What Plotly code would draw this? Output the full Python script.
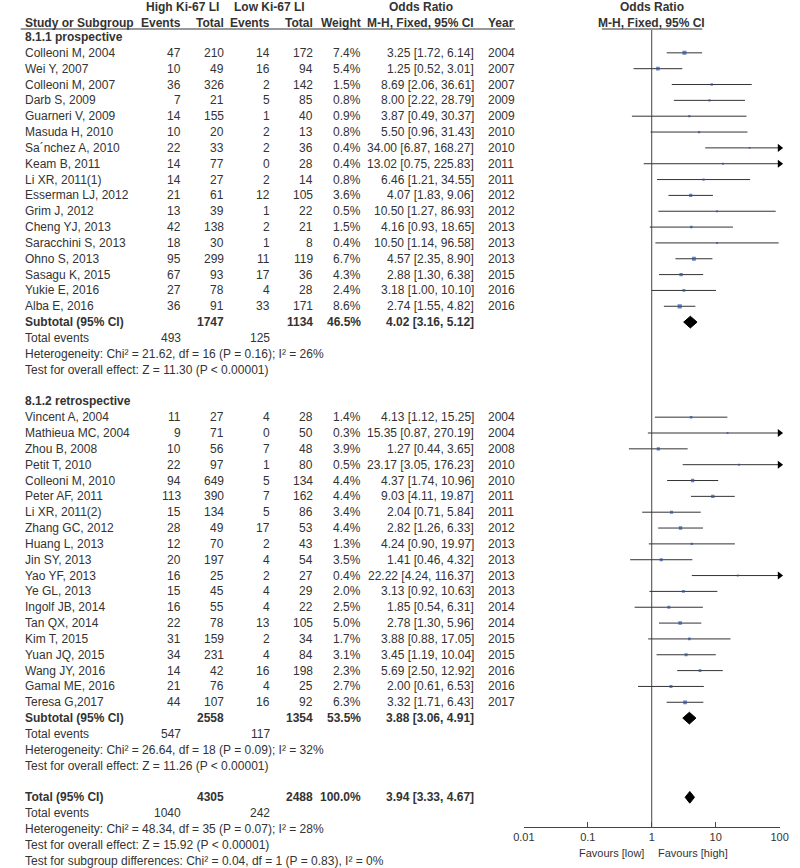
import plotly.graph_objects as go

# ---------------- data ----------------
prosp_names = ["Colleoni M, 2004", "Wei Y, 2007", "Colleoni M, 2007", "Darb S, 2009", "Guarneri V, 2009",
               "Masuda H, 2010", "Sa´nchez A, 2010", "Keam B, 2011", "Li XR, 2011(1)", "Esserman LJ, 2012",
               "Grim J, 2012", "Cheng YJ, 2013", "Saracchini S, 2013", "Ohno S, 2013", "Sasagu K, 2015",
               "Yukie E, 2016", "Alba E, 2016"]
prosp_ev_high = [47, 10, 36, 7, 14, 10, 22, 14, 14, 21, 13, 42, 18, 95, 67, 27, 36]
prosp_tot_high = [210, 49, 326, 21, 155, 20, 33, 77, 27, 61, 39, 138, 30, 299, 93, 78, 91]
prosp_ev_low = [14, 16, 2, 5, 1, 2, 2, 0, 2, 12, 1, 2, 1, 11, 17, 4, 33]
prosp_tot_low = [172, 94, 142, 85, 40, 13, 36, 28, 14, 105, 22, 21, 8, 119, 36, 28, 171]
prosp_weight = [7.4, 5.4, 1.5, 0.8, 0.9, 0.8, 0.4, 0.4, 0.8, 3.6, 0.5, 1.5, 0.4, 6.7, 4.3, 2.4, 8.6]
prosp_or = [3.25, 1.25, 8.69, 8.00, 3.87, 5.50, 34.00, 13.02, 6.46, 4.07, 10.50, 4.16, 10.50, 4.57, 2.88, 3.18, 2.74]
prosp_lo = [1.72, 0.52, 2.06, 2.22, 0.49, 0.96, 6.87, 0.75, 1.21, 1.83, 1.27, 0.93, 1.14, 2.35, 1.30, 1.00, 1.55]
prosp_hi = [6.14, 3.01, 36.61, 28.79, 30.37, 31.43, 168.27, 225.83, 34.55, 9.06, 86.93, 18.65, 96.58, 8.90, 6.38, 10.10, 4.82]
prosp_year = [2004, 2007, 2007, 2009, 2009, 2010, 2010, 2011, 2011, 2012, 2012, 2013, 2013, 2013, 2015, 2016, 2016]
prosp_sub = dict(tot_high=1747, tot_low=1134, weight="46.5%", est=4.02, lo=3.16, hi=5.12,
                 ev_high=493, ev_low=125,
                 het="Heterogeneity: Chi² = 21.62, df = 16 (P = 0.16); I² = 26%",
                 test="Test for overall effect: Z = 11.30 (P < 0.00001)")

retro_names = ["Vincent A, 2004", "Mathieua MC, 2004", "Zhou B, 2008", "Petit T, 2010", "Colleoni M, 2010",
               "Peter AF, 2011", "Li XR, 2011(2)", "Zhang GC, 2012", "Huang L, 2013", "Jin SY, 2013",
               "Yao YF, 2013", "Ye GL, 2013", "Ingolf JB, 2014", "Tan QX, 2014", "Kim T, 2015",
               "Yuan JQ, 2015", "Wang JY, 2016", "Gamal ME, 2016", "Teresa G,2017"]
retro_ev_high = [11, 9, 10, 22, 94, 113, 15, 28, 12, 20, 16, 15, 16, 22, 31, 34, 14, 21, 44]
retro_tot_high = [27, 71, 56, 97, 649, 390, 134, 49, 70, 197, 25, 45, 55, 78, 159, 231, 42, 76, 107]
retro_ev_low = [4, 0, 7, 1, 5, 7, 5, 17, 2, 4, 2, 4, 4, 13, 2, 4, 16, 4, 16]
retro_tot_low = [28, 50, 48, 80, 134, 162, 86, 53, 43, 54, 27, 29, 22, 105, 34, 84, 198, 25, 92]
retro_weight = [1.4, 0.3, 3.9, 0.5, 4.4, 4.4, 3.4, 4.4, 1.3, 3.5, 0.4, 2.0, 2.5, 5.0, 1.7, 3.1, 2.3, 2.7, 6.3]
retro_or = [4.13, 15.35, 1.27, 23.17, 4.37, 9.03, 2.04, 2.82, 4.24, 1.41, 22.22, 3.13, 1.85, 2.78, 3.88, 3.45, 5.69, 2.00, 3.32]
retro_lo = [1.12, 0.87, 0.44, 3.05, 1.74, 4.11, 0.71, 1.26, 0.90, 0.46, 4.24, 0.92, 0.54, 1.30, 0.88, 1.19, 2.50, 0.61, 1.71]
retro_hi = [15.25, 270.19, 3.65, 176.23, 10.96, 19.87, 5.84, 6.33, 19.97, 4.32, 116.37, 10.63, 6.31, 5.96, 17.05, 10.04, 12.92, 6.53, 6.43]
retro_year = [2004, 2004, 2008, 2010, 2010, 2011, 2011, 2012, 2013, 2013, 2013, 2013, 2014, 2014, 2015, 2015, 2016, 2016, 2017]
retro_sub = dict(tot_high=2558, tot_low=1354, weight="53.5%", est=3.88, lo=3.06, hi=4.91,
                 ev_high=547, ev_low=117,
                 het="Heterogeneity: Chi² = 26.64, df = 18 (P = 0.09); I² = 32%",
                 test="Test for overall effect: Z = 11.26 (P < 0.00001)")

overall = dict(tot_high=4305, tot_low=2488, weight="100.0%", est=3.94, lo=3.33, hi=4.67,
               ev_high=1040, ev_low=242,
               het="Heterogeneity: Chi² = 48.34, df = 35 (P = 0.07); I² = 28%",
               test="Test for overall effect: Z = 15.92 (P < 0.00001)",
               subgroup="Test for subgroup differences: Chi² = 0.04, df = 1 (P = 0.83), I² = 0%")

axis_ticks = [0.01, 0.1, 1, 10, 100]
axis_ticktext = ["0.01", "0.1", "1", "10", "100"]

# ---------------- layout constants ----------------
W, H = 800, 868
TOP_PX, ROW_PX = 37.0, 15.84


def r(px):
    return (px - TOP_PX) / ROW_PX


FONT = "Liberation Sans, Arial, sans-serif"
TXT = "#333333"
FS = 12
NAME_X, EV1_X, TOT1_X, EV2_X, TOT2_X, WT_X, OR_X, YEAR_X = 12, 176, 221, 268, 312, 361, 477, 487
AX_L, AX_R, AX_Y = 526, 788.3, 826.7
CI_COL = "#333333"
SQ_COL = "#2c4fa6"
XMAX = 100

fig = go.Figure()


def txt(text, px, row, anchor="right", bold=False, size=FS):
    if bold:
        text = "<b>" + text + "</b>"
    fig.add_annotation(x=px / W, xref="paper", y=row, yref="y", text=text, showarrow=False,
                       xanchor=anchor, yanchor="middle", font=dict(family=FONT, size=size, color=TXT))


# headers
h1, h2 = r(7.3), r(22.7)
txt("High Ki-67 LI", 176, h1, "center", True)
txt("Low Ki-67 LI", 265, h1, "center", True)
txt("Odds Ratio", 420, h1, "center", True)
txt("Odds Ratio", 657, h1, "center", True)
txt("Study or Subgroup", NAME_X, h2, "left", True)
txt("Events", EV1_X, h2, "right", True)
txt("Total", TOT1_X, h2, "right", True)
txt("Events", EV2_X, h2, "right", True)
txt("Total", TOT2_X, h2, "right", True)
txt("Weight", WT_X, h2, "right", True)
txt("M-H, Fixed, 95% CI", OR_X, h2, "right", True)
txt("Year", YEAR_X, h2, "left", True)
txt("M-H, Fixed, 95% CI", 657, h2, "center", True)
for x0, x1 in [(10, 517), (606, 709)]:
    fig.add_shape(type="line", xref="paper", yref="y", x0=x0 / W, x1=x1 / W, y0=r(29), y1=r(29),
                  line=dict(color=TXT, width=1))

ci_x, ci_y, sq_x, sq_y, sq_s, ar_x, ar_y = [], [], [], [], [], [], []


def study_block(start_row, title, names, e1, n1, e2, n2, wt, orv, lo, hi, yr, sub):
    txt(title, NAME_X, start_row, "left", True)
    for k in range(len(names)):
        row = start_row + 1 + k
        txt(names[k], NAME_X, row, "left")
        txt(str(e1[k]), EV1_X, row)
        txt(str(n1[k]), TOT1_X, row)
        txt(str(e2[k]), EV2_X, row)
        txt(str(n2[k]), TOT2_X, row)
        txt(f"{wt[k]:.1f}%", WT_X, row)
        txt(f"{orv[k]:.2f} [{lo[k]:.2f}, {hi[k]:.2f}]", OR_X, row)
        txt(str(yr[k]), YEAR_X, row, "left")
        ci_x.extend([lo[k], min(hi[k], XMAX), None])
        ci_y.extend([row, row, None])
        sq_x.append(orv[k]); sq_y.append(row); sq_s.append(1.3 + 1.0 * wt[k] ** 0.5)
        if hi[k] > XMAX:
            ar_x.append(XMAX); ar_y.append(row)
    srow = start_row + 1 + len(names)
    summary_rows(srow, "Subtotal (95% CI)", sub)
    return srow


def summary_rows(srow, label, s):
    txt(label, NAME_X, srow, "left", True)
    txt(str(s["tot_high"]), TOT1_X, srow, bold=True)
    txt(str(s["tot_low"]), TOT2_X, srow, bold=True)
    txt(s["weight"], WT_X, srow, bold=True)
    txt(f"{s['est']:.2f} [{s['lo']:.2f}, {s['hi']:.2f}]", OR_X, srow, bold=True)
    txt("Total events", NAME_X, srow + 1, "left")
    txt(str(s["ev_high"]), EV1_X, srow + 1)
    txt(str(s["ev_low"]), EV2_X, srow + 1)
    txt(s["het"], NAME_X, srow + 2, "left")
    txt(s["test"], NAME_X, srow + 3, "left")
    hh = 0.37
    fig.add_trace(go.Scatter(x=[s["lo"], s["est"], s["hi"], s["est"], s["lo"]],
                             y=[srow, srow - hh, srow, srow + hh, srow],
                             mode="lines", fill="toself", fillcolor="black",
                             line=dict(color="black", width=1), hoverinfo="skip"))


s1 = study_block(0, "8.1.1 prospective", prosp_names, prosp_ev_high, prosp_tot_high, prosp_ev_low,
                 prosp_tot_low, prosp_weight, prosp_or, prosp_lo, prosp_hi, prosp_year, prosp_sub)
s2 = study_block(s1 + 5, "8.1.2 retrospective", retro_names, retro_ev_high, retro_tot_high, retro_ev_low,
                 retro_tot_low, retro_weight, retro_or, retro_lo, retro_hi, retro_year, retro_sub)
trow = s2 + 5
summary_rows(trow, "Total (95% CI)", overall)
txt(overall["subgroup"], NAME_X, trow + 4, "left")

# no-effect line
fig.add_trace(go.Scatter(x=[1, 1], y=[r(30), r(AX_Y)], mode="lines",
                         line=dict(color="#444444", width=1), hoverinfo="skip"))
# CIs
fig.add_trace(go.Scatter(x=ci_x, y=ci_y, mode="lines", line=dict(color=CI_COL, width=1),
                         hoverinfo="skip"))
fig.add_trace(go.Scatter(x=sq_x, y=sq_y, mode="markers",
                         marker=dict(symbol="square", size=sq_s, color=SQ_COL, line=dict(width=0))))
fig.add_trace(go.Scatter(x=ar_x, y=ar_y, mode="markers", cliponaxis=False,
                         marker=dict(symbol="triangle-right", size=7, color="black")))

txt("Favours [low]", 651, r(852.7), "right", size=11)
txt("Favours [high]", 662, r(852.7), "left", size=11)

fig.update_layout(
    width=W, height=H, margin=dict(l=0, r=0, t=0, b=0),
    paper_bgcolor="white", plot_bgcolor="white", showlegend=False,
    xaxis=dict(type="log", range=[-2, 2], domain=[AX_L / W, AX_R / W], anchor="free",
               position=1 - AX_Y / H, showline=True, linecolor="#444444", linewidth=1,
               ticks="inside", ticklen=5, tickcolor="#444444", tickvals=axis_ticks,
               ticktext=axis_ticktext, showgrid=False, zeroline=False,
               tickfont=dict(family=FONT, size=11, color=TXT)),
    yaxis=dict(range=[r(H), r(0)], domain=[0, 1], visible=False, showgrid=False, zeroline=False),
)

fig.write_html("out.html", config={"displayModeBar": False},
               post_script="document.body.style.margin='0';document.body.style.padding='0';"
                           "document.body.style.overflow='hidden';")
